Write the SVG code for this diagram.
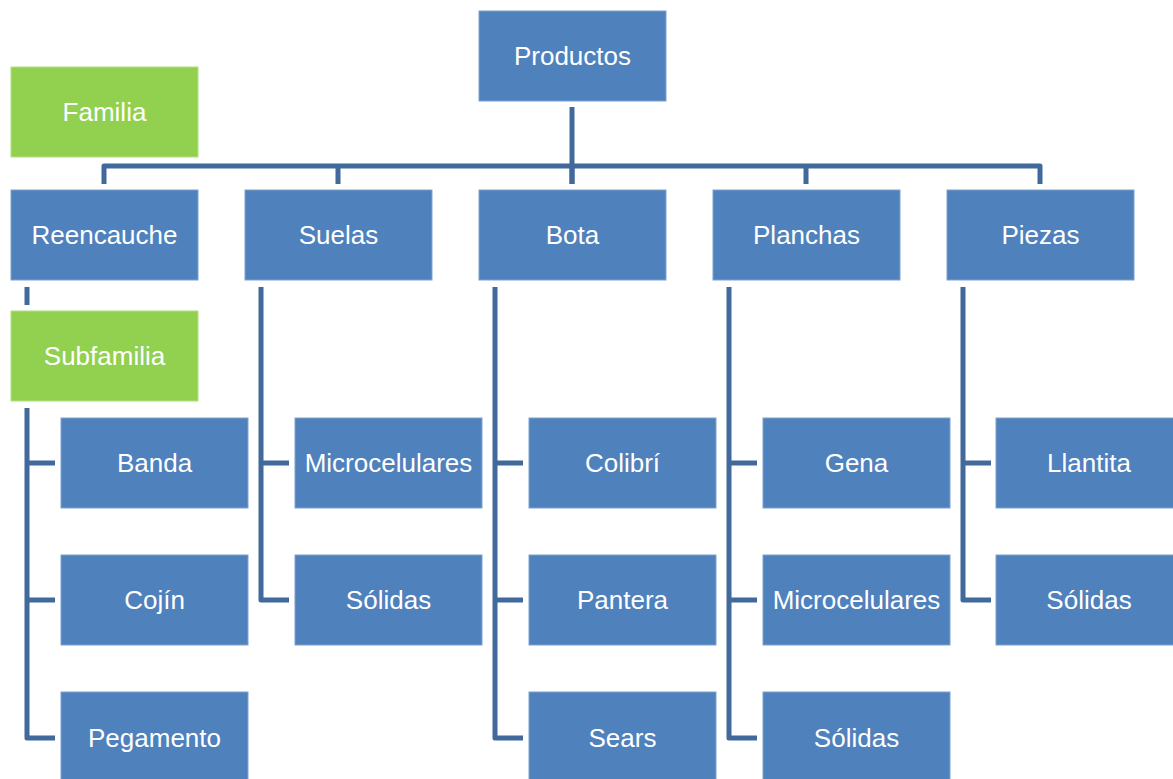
<svg xmlns="http://www.w3.org/2000/svg" width="1173" height="779" viewBox="0 0 1173 779">
<style>
.b{fill:#4F81BD;stroke:#7EA2CE;stroke-width:1}
.g{fill:#92D050;stroke:#B2E07E;stroke-width:1}
text{font-family:"Liberation Sans",Arial,sans-serif;font-size:26px;fill:#fff;text-anchor:middle;dominant-baseline:central}
.c path{fill:none;stroke:#41699C;stroke-width:5;stroke-linejoin:round}
</style>
<rect width="1173" height="779" fill="#fff"/>
<g class="c" id="connectors">
<path d="M572 107V184"/>
<path d="M104 184V166H1040V184M338 166V184M572 166V184M806 166V184"/>
<path d="M27 287V305"/>
<path d="M27 408V738H55M27 463H55M27 600H55"/>
<path d="M261 287V600H289M261 463H289"/>
<path d="M495 287V738H523M495 463H523M495 600H523"/>
<path d="M729 287V738H757M729 463H757M729 600H757"/>
<path d="M963 287V600H991M963 463H991"/>
</g>
<g id="productos"><rect class="b" x="479" y="11" width="187" height="90"/><text x="572.5" y="56">Productos</text></g>
<g id="familia"><rect class="g" x="11" y="67" width="187" height="90"/><text x="104.5" y="112">Familia</text></g>
<g id="reencauche"><rect class="b" x="11" y="190" width="187" height="90"/><text x="104.5" y="235">Reencauche</text></g>
<g id="suelas"><rect class="b" x="245" y="190" width="187" height="90"/><text x="338.5" y="235">Suelas</text></g>
<g id="bota"><rect class="b" x="479" y="190" width="187" height="90"/><text x="572.5" y="235">Bota</text></g>
<g id="planchas"><rect class="b" x="713" y="190" width="187" height="90"/><text x="806.5" y="235">Planchas</text></g>
<g id="piezas"><rect class="b" x="947" y="190" width="187" height="90"/><text x="1040.5" y="235">Piezas</text></g>
<g id="subfamilia"><rect class="g" x="11" y="311" width="187" height="90"/><text x="104.5" y="356">Subfamilia</text></g>
<g id="banda"><rect class="b" x="61" y="418" width="187" height="90"/><text x="154.5" y="463">Banda</text></g>
<g id="cojin"><rect class="b" x="61" y="555" width="187" height="90"/><text x="154.5" y="600">Cojín</text></g>
<g id="pegamento"><rect class="b" x="61" y="692" width="187" height="90"/><text x="154.5" y="738">Pegamento</text></g>
<g id="suelas-micro"><rect class="b" x="295" y="418" width="187" height="90"/><text x="388.5" y="463">Microcelulares</text></g>
<g id="suelas-solidas"><rect class="b" x="295" y="555" width="187" height="90"/><text x="388.5" y="600">Sólidas</text></g>
<g id="colibri"><rect class="b" x="529" y="418" width="187" height="90"/><text x="622.5" y="463">Colibrí</text></g>
<g id="pantera"><rect class="b" x="529" y="555" width="187" height="90"/><text x="622.5" y="600">Pantera</text></g>
<g id="sears"><rect class="b" x="529" y="692" width="187" height="90"/><text x="622.5" y="738">Sears</text></g>
<g id="gena"><rect class="b" x="763" y="418" width="187" height="90"/><text x="856.5" y="463">Gena</text></g>
<g id="planchas-micro"><rect class="b" x="763" y="555" width="187" height="90"/><text x="856.5" y="600">Microcelulares</text></g>
<g id="planchas-solidas"><rect class="b" x="763" y="692" width="187" height="90"/><text x="856.5" y="738">Sólidas</text></g>
<g id="llantita"><rect class="b" x="996" y="418" width="187" height="90"/><text x="1089" y="463">Llantita</text></g>
<g id="piezas-solidas"><rect class="b" x="996" y="555" width="187" height="90"/><text x="1089" y="600">Sólidas</text></g>
</svg>
